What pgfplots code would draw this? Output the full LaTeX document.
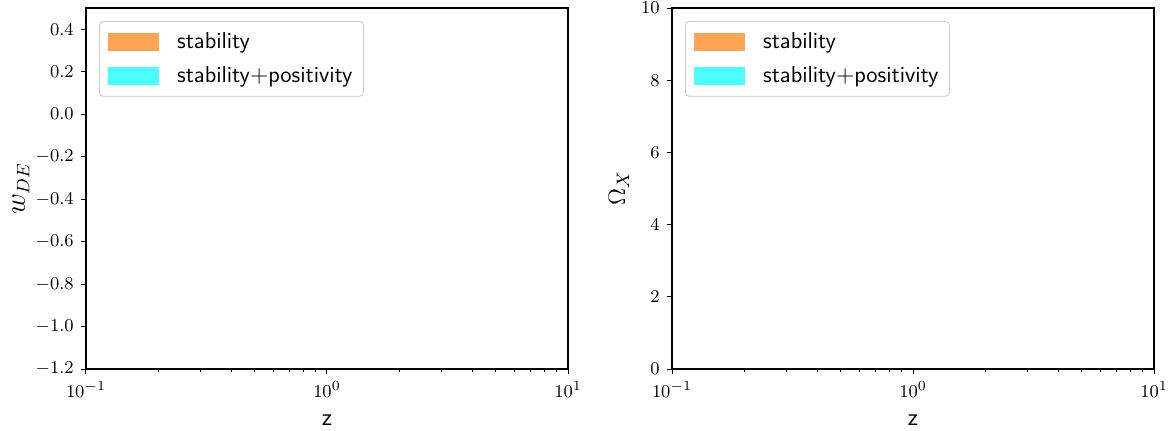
\documentclass[border=0pt]{standalone}
\usepackage{pgfplots}
\pgfplotsset{compat=1.18}
\definecolor{stabC}{RGB}{255,165,85}
\definecolor{posC}{RGB}{77,255,255}
\pgfplotsset{
  myaxis/.style={
    scale only axis, width=241pt, height=180.5pt,
    xmin=0.1, xmax=10,
    axis line style={line width=0.55pt},
    every tick/.style={black, line width=0.5pt},
    tick align=outside,
    major tick length=2.6pt, minor tick length=1.5pt,
    xtick pos=bottom, ytick pos=left,
    tick label style={font=\fontsize{9.5}{11}\selectfont},
    xlabel={z},
    xlabel style={font=\sffamily\fontsize{12}{14}\selectfont, at={(axis description cs:0.5,-0.141)}, anchor=center},
    legend cell align=left,
    legend style={at={(0.027,0.964)}, anchor=north west, draw=black!20, rounded corners=2pt,
      fill=white, fill opacity=0.8, text opacity=1,
      font=\sffamily\fontsize{11.5}{13}\selectfont,
      row sep=3.5pt, inner xsep=4.5pt, inner ysep=3.5pt,
      nodes={inner xsep=1pt},
      /tikz/every odd column/.append style={column sep=8pt}},
  },
  stabimg/.style={legend image code/.code={\fill[stabC, sharp corners, fill opacity=1] (0pt,-4.25pt) rectangle (25pt,4.25pt);}},
  posimg/.style={legend image code/.code={\fill[posC, sharp corners, fill opacity=1] (0pt,-4.25pt) rectangle (25pt,4.25pt);}},
}
\begin{document}
\begin{tikzpicture}
\useasboundingbox (0pt,0pt) rectangle (587pt,215pt);
\begin{semilogxaxis}[myaxis, at={(43pt,30.5pt)}, anchor=south west,
  ymin=-1.2, ymax=0.5, ytick={-1.2,-1.0,...,0.41},
  yticklabel style={/pgf/number format/.cd, fixed, fixed zerofill, precision=1},
  every axis y label/.style={at={(axis description cs:-0.135,0.5)}, rotate=90, anchor=center, font=\fontsize{13.5}{16}\selectfont},
  ylabel={$w_{DE}$}]
\addlegendimage{stabimg}
\addlegendentry{stability}
\addlegendimage{posimg}
\addlegendentry{stability$+$positivity}
\end{semilogxaxis}
\begin{semilogxaxis}[myaxis, at={(336pt,30.5pt)}, anchor=south west,
  ymin=0, ymax=10, ytick={0,2,4,6,8,10},
  every axis y label/.style={at={(axis description cs:-0.11,0.5)}, rotate=90, anchor=center, font=\fontsize{13}{16}\selectfont},
  ylabel={$\Omega_X$}]
\addlegendimage{stabimg}
\addlegendentry{stability}
\addlegendimage{posimg}
\addlegendentry{stability$+$positivity}
\end{semilogxaxis}
\end{tikzpicture}
\end{document}
